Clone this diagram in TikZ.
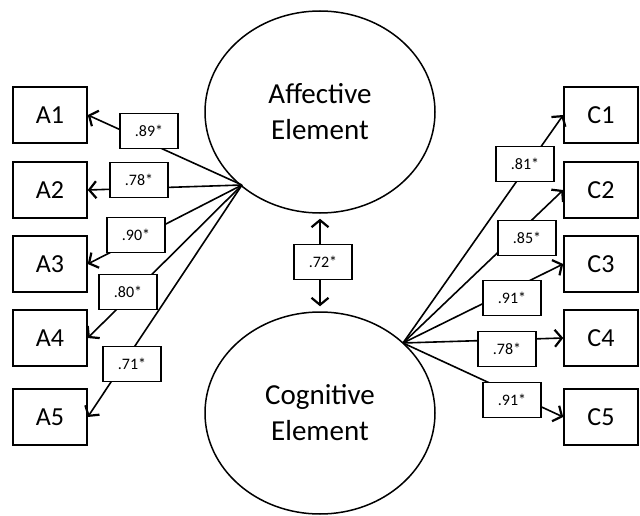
\documentclass[tikz,border=0pt]{standalone}
\usepackage{fontspec}
\setmainfont{Carlito}
\usetikzlibrary{arrows.meta,shapes.geometric}
\begin{document}
\begin{tikzpicture}[x=1pt,y=-1pt,
  ind/.style={draw, line width=1.5pt, minimum width=74pt, minimum height=56pt, inner sep=0pt, font=\fontsize{26}{30}\selectfont},
  lat/.style={draw, ellipse, line width=1.5pt, minimum width=230pt, minimum height=202pt, inner sep=0pt, align=center, font=\fontsize{29}{36}\selectfont},
  lab/.style={draw, fill=white, line width=1.3pt, minimum width=58pt, minimum height=35pt, inner sep=0pt, font=\fontsize{16}{18}\selectfont},
  tip/.style={Straight Barb[length=7pt,width=17pt,line width=2.2pt]},
  load/.style={line width=1.6pt, -{Straight Barb[length=7pt,width=17pt,line width=2.2pt]}},
  corr/.style={line width=1.6pt, {Straight Barb[length=7pt,width=17pt,line width=2.2pt]}-{Straight Barb[length=7pt,width=17pt,line width=2.2pt]}, shorten <=5pt, shorten >=5pt}
]
\useasboundingbox (0,0) rectangle (640,516);
% latent variables
\node[lat] (aff) at (320,112) {Affective\\Element};
\node[lat] (cog) at (320,413) {Cognitive\\Element};
% indicators
\node[ind] (A1) at (50,115) {A1};
\node[ind] (A2) at (50,190) {A2};
\node[ind] (A3) at (50,264) {A3};
\node[ind] (A4) at (50,338) {A4};
\node[ind] (A5) at (50,417) {A5};
\node[ind] (C1) at (601,115) {C1};
\node[ind] (C2) at (601,190) {C2};
\node[ind] (C3) at (601,264) {C3};
\node[ind] (C4) at (601,338) {C4};
\node[ind] (C5) at (601,417) {C5};
% hubs
\coordinate (ha) at (242,185);
\coordinate (hc) at (403,343);
% connectors
\foreach \i in {1,...,5} {
  \draw[load] (ha) -- (A\i.east);
  \draw[load] (hc) -- (C\i.west);
}
\draw[corr] (aff.south) -- (cog.north);
% labels
\node[lab] (l1) at (149,131) {.89*};
\node[lab] (l2) at (139,180) {.78*};
\node[lab] (l3) at (136,235) {.90*};
\node[lab] (l4) at (128,292) {.80*};
\node[lab] (l5) at (132,364) {.71*};
\node[lab] (r1) at (525,164) {.81*};
\node[lab] (r2) at (527,238) {.85*};
\node[lab] (r3) at (512,298) {.91*};
\node[lab] (r4) at (507,349) {.78*};
\node[lab] (r5) at (512,400) {.91*};
\node[lab] (lc) at (323,262) {.72*};
\end{tikzpicture}
\end{document}
